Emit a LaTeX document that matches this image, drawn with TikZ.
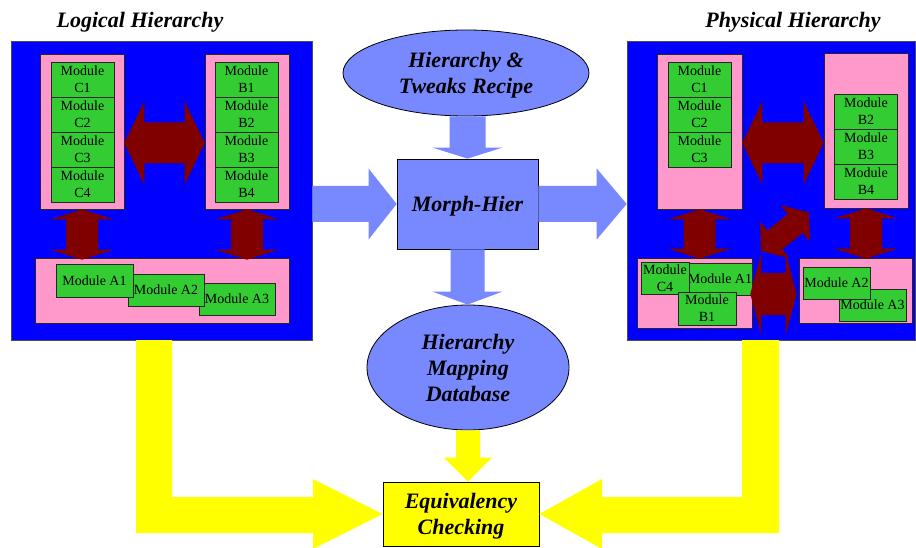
\documentclass[tikz,border=0pt]{standalone}
\usepackage{fontspec}
\setmainfont{Liberation Serif}
\usetikzlibrary{calc,shapes.geometric}

\definecolor{panelblue}{RGB}{0,0,255}
\definecolor{pinkfill}{RGB}{255,153,204}
\definecolor{modgreen}{RGB}{51,204,51}
\definecolor{maroon}{RGB}{128,0,0}
\definecolor{lilac}{RGB}{120,137,255}
\definecolor{yel}{RGB}{255,255,0}

% single block arrow: colour, from, to, shaft half width, head half width, head length
\newcommand\blockarrow[6]{%
  \coordinate (bap) at ($(#3)!#6pt!(#2)$);
  \fill[#1] ($(#2)!#4pt!90:(#3)$) -- ($(bap)!#4pt!90:(#3)$) -- ($(bap)!#5pt!90:(#3)$)
    -- (#3) -- ($(bap)!#5pt!-90:(#3)$) -- ($(bap)!#4pt!-90:(#3)$)
    -- ($(#2)!#4pt!-90:(#3)$) -- cycle;
}
% double-headed block arrow: colour, end, end, shaft half width, head half width, head length
\newcommand\doublearrow[6]{%
  \coordinate (dap) at ($(#2)!#6pt!(#3)$);
  \coordinate (daq) at ($(#3)!#6pt!(#2)$);
  \fill[#1] (#2) -- ($(dap)!#5pt!90:(#3)$) -- ($(dap)!#4pt!90:(#3)$)
    -- ($(daq)!#4pt!90:(#3)$) -- ($(daq)!#5pt!90:(#3)$) -- (#3)
    -- ($(daq)!#5pt!-90:(#3)$) -- ($(daq)!#4pt!-90:(#3)$)
    -- ($(dap)!#4pt!-90:(#3)$) -- ($(dap)!#5pt!-90:(#3)$) -- cycle;
}

\tikzset{
  panel/.style={draw=black!70, line width=0.6pt, fill=panelblue, inner sep=0pt},
  group/.style={draw=black!85, line width=0.6pt, fill=pinkfill, inner sep=0pt},
  module/.style={draw=black!85, line width=0.6pt, fill=modgreen, inner sep=0pt,
    align=center, font=\fontsize{14}{17}\selectfont},
  stack/.style={module, minimum width=63, minimum height=35},
  title/.style={font=\fontsize{22}{26}\selectfont\bfseries\itshape, inner sep=0pt},
  flowshape/.style={draw=black, line width=0.8pt, fill=lilac, inner sep=0pt},
  eqbox/.style={draw=black, line width=0.8pt, fill=yel, inner sep=0pt},
  flowtext/.style={align=center, inner sep=0pt,
    font=\fontsize{22}{26}\selectfont\bfseries\itshape},
}

\begin{document}
\begin{tikzpicture}[x=1pt,y=-1pt]
\useasboundingbox (0,0) rectangle (916,548);

% the two hierarchy panels
\node[panel, minimum width=301, minimum height=299] (LP) at (161.5,190.5) {};
\node[panel, minimum width=288, minimum height=299] (RP) at (771,190.5) {};
\node[title, anchor=base] (LT) at (140,27.5) {Logical Hierarchy};
\node[title, anchor=base] (PT) at (793,27.5) {Physical Hierarchy};

% logical hierarchy
\node[group, minimum width=84, minimum height=155] (Lc) at (82,131.5) {};
\node[group, minimum width=84, minimum height=155] (Lb) at (247,131.5) {};
\node[group, minimum width=254, minimum height=65] (La) at (162,290.5) {};
\node[stack] (LC1) at (82.5,79.5) {Module\\C1};
\node[stack] (LC2) at (82.5,114.5) {Module\\C2};
\node[stack] (LC3) at (82.5,149.5) {Module\\C3};
\node[stack] (LC4) at (82.5,184.5) {Module\\C4};
\node[stack] (LB1) at (246.5,79.5) {Module\\B1};
\node[stack] (LB2) at (246.5,114.5) {Module\\B2};
\node[stack] (LB3) at (246.5,149.5) {Module\\B3};
\node[stack] (LB4) at (246.5,184.5) {Module\\B4};
\node[module, minimum width=76, minimum height=32] (LA3) at (237,299) {Module A3};
\node[module, minimum width=76, minimum height=32] (LA2) at (166,290) {Module A2};
\node[module, minimum width=77, minimum height=33] (LA1) at (94.5,280.5) {Module A1};

% physical hierarchy
\node[group, minimum width=85, minimum height=155] (Rc) at (699.5,131.5) {};
\node[group, minimum width=84, minimum height=155] (Rb) at (866,130.5) {};
\node[group, minimum width=115, minimum height=70] (RaL) at (694.5,293) {};
\node[group, minimum width=113, minimum height=65] (RaR) at (855.5,290.5) {};
\node[stack] (RC1) at (699.5,79.5) {Module\\C1};
\node[stack] (RC2) at (699.5,114.5) {Module\\C2};
\node[stack] (RC3) at (699.5,149.5) {Module\\C3};
\node[stack] (RB2) at (866,111.5) {Module\\B2};
\node[stack] (RB3) at (866,146.5) {Module\\B3};
\node[stack] (RB4) at (866,181.5) {Module\\B4};
\node[module, minimum width=64, minimum height=32] (RA1) at (720,279) {Module A1};
\node[module, minimum width=48, minimum height=32] (RC4) at (665,278) {Module\\C4};
\node[module, minimum width=58, minimum height=33] (RB1) at (707,308.5) {Module\\B1};
\node[module, minimum width=67, minimum height=32] (RA3) at (872.5,305) {Module A3};
\node[module, minimum width=67, minimum height=32] (RA2) at (836.5,283) {Module A2};

% flow in the middle
\node[flowshape, ellipse, minimum width=246, minimum height=86] (recipe) at (466,73) {};
\node[flowtext] (recipe-t) at ($(recipe.center)+(0,2)$) {Hierarchy \&\\Tweaks Recipe};
\node[flowshape, rectangle, minimum width=141, minimum height=90] (morph) at (467.5,204) {};
\node[flowtext] (morph-t) at ($(morph.center)+(0,2.4)$) {Morph-Hier};
\node[flowshape, ellipse, minimum width=202, minimum height=125] (map) at (468,367.5) {};
\node[flowtext] (map-t) at (map.center) {Hierarchy\\Mapping\\Database};

% block arrows of the flow
\coordinate (r1) at (morph.north |- recipe.south);
\blockarrow{lilac}{r1}{morph.north}{18}{35}{11}
\coordinate (l1) at (LP.east |- morph.west);
\blockarrow{lilac}{l1}{morph.west}{18}{35.5}{28}
\coordinate (o1) at (RP.west |- morph.east);
\blockarrow{lilac}{morph.east}{o1}{18}{35.5}{30}
\coordinate (d1) at (morph.south |- map.north);
\blockarrow{lilac}{morph.south}{d1}{17}{35}{13}

\node[eqbox, minimum width=156, minimum height=64] (eq) at (461,514) {};
\node[flowtext] (eq-t) at ($(eq.center)+(0,2)$) {Equivalency\\Checking};
\coordinate (y1) at (map.south |- eq.north);
\blockarrow{yel}{map.south}{y1}{12}{24}{24}

% both hierarchies feed the equivalency check
\fill[yel] (136,340) -- (172,340) -- (172,497) -- (313,497) -- (313,479) -- (eq.west)
  -- (313,549) -- (313,533) -- (136,533) -- cycle;
\fill[yel] (742,340) -- (779,340) -- (779,533) -- (602,533) -- (602,549) -- (eq.east)
  -- (602,479) -- (602,497) -- (742,497) -- cycle;

% links inside the logical hierarchy
\coordinate (a1) at (Lc.east |- 0,143);
\coordinate (a2) at (Lb.west |- 0,143);
\doublearrow{maroon}{a1}{a2}{20.5}{41.5}{20}
\coordinate (a3) at ($(Lc.south |- La.north)+(0,2)$);
\doublearrow{maroon}{Lc.south}{a3}{16}{31.5}{10}
\coordinate (a4) at ($(Lb.south |- La.north)+(0,2)$);
\doublearrow{maroon}{Lb.south}{a4}{16}{31.5}{10}

% links inside the physical hierarchy
\coordinate (b1) at (Rc.east |- 0,143);
\coordinate (b2) at (Rb.west |- 0,143);
\doublearrow{maroon}{b1}{b2}{20.5}{41.5}{20}
\coordinate (b3) at ($(Rc.south |- RaL.north)+(0,1)$);
\doublearrow{maroon}{Rc.south}{b3}{16}{31.5}{10}
\coordinate (b4) at ($(Rb.south |- RaR.north)+(0,1)$);
\doublearrow{maroon}{Rb.south}{b4}{16}{31.5}{10}
\coordinate (b5) at ($(RaL.east |- 0,294)+(-2,0)$);
\coordinate (b6) at ($(RaR.west |- 0,294)+(-2,0)$);
\doublearrow{maroon}{b5}{b6}{21}{41}{11}
\coordinate (b7) at (761,251);
\coordinate (b8) at (809,212.5);
\doublearrow{maroon}{b7}{b8}{12}{23.5}{17.6}
\end{tikzpicture}
\end{document}
